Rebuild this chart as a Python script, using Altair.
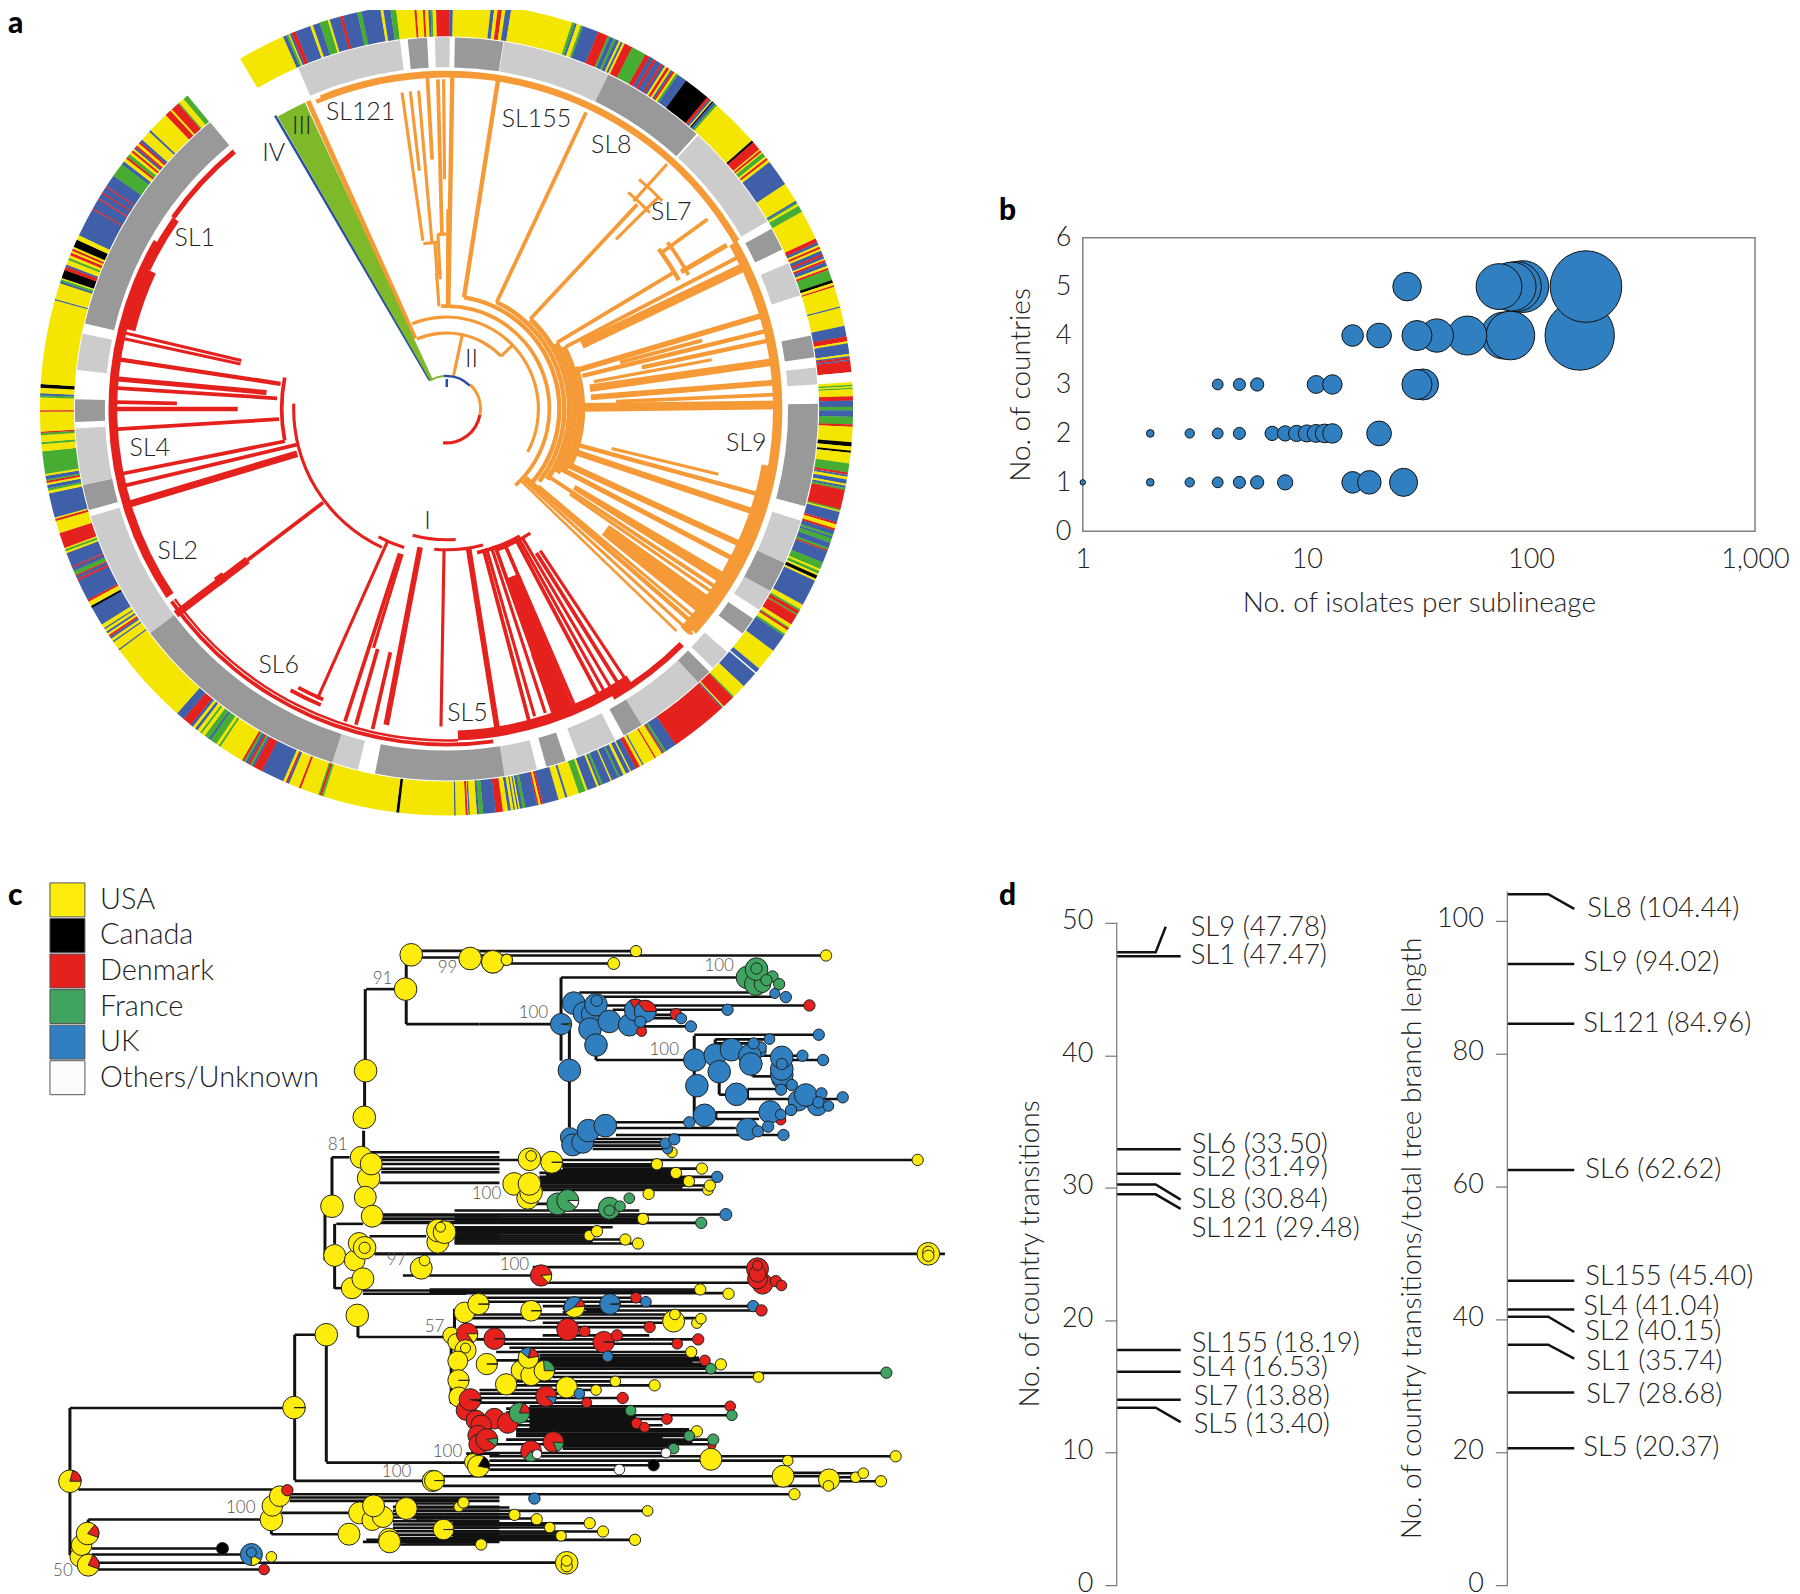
import math
import altair as alt
import pandas as pd

FONT = "Lato"
TXT = "#222222"
RED, ORG = "#e5211d", "#f59a36"
CX, CY = 447.0, 407.5
TREE_W = 1.25

# ---------- panel a: sublineage ring ----------
SEG = [(-23.5,-7.2,"L"),(-6,-3,"D"),(-1.8,0.5,"L"),(1.3,8.8,"D"),(8.9,25.8,"L"),(25.8,42.3,"D"),(42.6,59.7,"L"),
       (61,64.6,"D"),(66.9,72.2,"L"),(78.6,82,"D"),(83.6,86.2,"L"),(89.2,105.2,"D"),(107.5,114.5,"L"),(114.5,119.4,"D"),
       (119.4,122.7,"L"),(124.4,127.2,"D"),(130.9,134.2,"L"),(135,137.4,"D"),(137.4,148.3,"L"),(148.3,151.5,"D"),
       (153,159.3,"L"),(161.3,164.4,"D"),(165.9,171,"L"),(171,191.1,"D"),(193.8,197.9,"L"),(197.9,232.9,"D"),
       (232.9,253.2,"L"),(254.2,258.2,"D"),(258.2,267,"L"),(268,271.5,"D"),(276,281.7,"L"),(283.3,320.5,"D")]
# ---------- panel a: country ring (start angle, country) ----------
RING = [(-30.5,"Y"),(-23.7,"B"),(-23.2,"G"),(-22.9,"Y"),(-22.7,"B"),(-22.4,"R"),(-21.8,"B"),(-19.6,"Y"),(-19.2,"B"),(-18.2,"G"),
(-17.0,"Y"),(-16.7,"B"),(-15.2,"R"),(-14.8,"B"),(-12.7,"G"),(-12.1,"B"),(-9.4,"Y"),(-9.0,"B"),(-8.0,"G"),(-7.2,"Y"),(-4.6,"R"),
(-4.3,"Y"),(-3.4,"R"),(-3.1,"Y"),(-2.6,"B"),(-2.3,"G"),(-2.0,"Y"),(-1.5,"R"),(0.4,"B"),(0.9,"Y"),(6.3,"B"),(6.8,"Y"),(7.3,"R"),
(7.9,"Y"),(8.4,"B"),(9.2,"Y"),(18,"G"),(18.4,"B"),(18.7,"Y"),(19.3,"G"),(19.6,"B"),(21.9,"R"),(23.4,"G"),(23.7,"B"),(24.3,"G"),
(24.6,"B"),(25.1,"Y"),(25.4,"B"),(25.7,"Y"),(26.0,"R"),(27.2,"G"),(29.3,"R"),(30,"B"),(30.6,"R"),(31,"B"),(31.8,"R"),(32.1,"B"),
(32.5,"Y"),(32.8,"R"),(33.2,"Y"),(33.5,"B"),(33.8,"R"),(34.1,"Y"),(34.4,"G"),(34.7,"B"),(36.1,"K"),(39.9,"R"),(40.3,"B"),(40.6,"Y"),
(40.8,"K"),(41,"B"),(41.4,"G"),(41.7,"Y"),(48.7,"K"),(49,"R"),(50.3,"Y"),(50.5,"R"),(50.8,"Y"),(51,"G"),(51.6,"Y"),(51.9,"R"),
(52.2,"Y"),(52.6,"B"),(56.4,"Y"),(59.2,"B"),(59.5,"G"),(59.7,"Y"),(60,"G"),(61,"Y"),(65.2,"R"),(65.8,"B"),(66.2,"Y"),(66.5,"R"),
(66.8,"Y"),(67.1,"B"),(67.6,"R"),(67.9,"B"),(68.3,"Y"),(68.5,"R"),(68.8,"B"),(69.4,"Y"),(69.7,"R"),(70,"G"),(71.5,"K"),(71.9,"Y"),
(72.3,"R"),(72.5,"Y"),(75.4,"B"),(75.6,"Y"),(78.2,"B"),(79.7,"R"),(80.4,"Y"),(80.7,"B"),(82.2,"Y"),(82.5,"B"),(82.7,"R"),(83,"B"),
(83.2,"R"),(84.8,"W"),(86.2,"Y"),(86.6,"G"),(86.8,"Y"),(87,"G"),(87.2,"Y"),(88.2,"R"),(88.8,"B"),(89.7,"G"),(90.2,"B"),(91.1,"G"),
(92.2,"R"),(92.5,"Y"),(94.7,"K"),(95.3,"Y"),(95.9,"K"),(96.2,"Y"),(97.7,"G"),(99,"R"),(99.3,"B"),(99.6,"Y"),(100,"B"),(100.6,"Y"),
(100.9,"B"),(101.2,"G"),(101.5,"R"),(104.3,"G"),(104.5,"Y"),(104.7,"B"),(106.2,"R"),(106.5,"Y"),(107.1,"R"),(107.4,"B"),(108,"G"),
(108.3,"B"),(108.6,"G"),(109.2,"B"),(110,"G"),(110.3,"R"),(110.5,"B"),(112.2,"G"),(113.2,"Y"),(113.5,"G"),(113.9,"Y"),(114.2,"K"),
(114.7,"Y"),(115,"B"),(118.8,"Y"),(119.5,"G"),(119.8,"R"),(120.3,"G"),(120.5,"R"),(122,"Y"),(122.5,"G"),(122.7,"R"),(123,"Y"),
(123.6,"G"),(123.9,"B"),(126.5,"Y"),(129.7,"B"),(130.4,"W"),(130.6,"B"),(133,"Y"),(135,"G"),(135.2,"R"),(137,"Y"),(137.2,"B"),
(137.4,"R"),(145.7,"B"),(147.3,"G"),(147.6,"B"),(147.8,"R"),(148,"Y"),(149,"R"),(149.2,"Y"),(151,"B"),(151.2,"Y"),(151.6,"R"),
(152.2,"B"),(153,"Y"),(153.2,"B"),(153.8,"Y"),(154.2,"B"),(154.8,"G"),(155,"B"),(156,"Y"),(156.2,"B"),(157.4,"G"),(157.7,"B"),
(158,"Y"),(158.3,"B"),(159.7,"Y"),(160,"G"),(161,"Y"),(162.7,"B"),(163,"Y"),(164,"B"),(166.3,"R"),(166.6,"Y"),(166.9,"R"),(167.1,"B"),
(168.8,"G"),(169.2,"B"),(169.6,"Y"),(169.8,"B"),(170,"Y"),(170.3,"B"),(170.5,"Y"),(170.9,"B"),(171.3,"Y"),(172,"R"),(173,"B"),
(174.8,"G"),(175.4,"B"),(175.7,"Y"),(176.7,"B"),(176.9,"Y"),(177,"R"),(177.3,"Y"),(178.7,"B"),(178.9,"Y"),(186.7,"K"),(187.1,"Y"),
(197.6,"G"),(197.9,"R"),(198.2,"G"),(198.4,"Y"),(201,"R"),(201.3,"Y"),(202.8,"B"),(203.1,"R"),(203.3,"Y"),(203.7,"B"),(207,"R"),
(208.3,"B"),(208.6,"G"),(208.9,"R"),(209.2,"B"),(209.6,"G"),(209.9,"R"),(210.2,"Y"),(213.8,"G"),(214.1,"Y"),(214.5,"G"),(215.5,"B"),
(215.8,"G"),(216.5,"Y"),(217,"G"),(217.3,"Y"),(217.8,"B"),(218.2,"Y"),(218.6,"B"),(219,"R"),(220.3,"B"),(221.5,"Y"),(233.6,"B"),
(233.8,"Y"),(235,"B"),(235.2,"Y"),(235.6,"B"),(235.9,"R"),(236.2,"Y"),(236.5,"B"),(236.8,"Y"),(237.2,"B"),(237.4,"Y"),(238,"B"),
(240.7,"K"),(241,"Y"),(241.7,"R"),(242,"B"),(245,"R"),(245.3,"B"),(245.7,"R"),(245.9,"G"),(246.5,"B"),(247,"R"),(247.2,"B"),(249.2,"Y"),
(249.5,"G"),(249.8,"Y"),(250,"R"),(252.2,"Y"),(254,"R"),(254.3,"Y"),(254.5,"B"),(258,"Y"),(258.4,"G"),(258.7,"B"),(259.2,"Y"),(259.5,"R"),
(259.8,"G"),(260,"B"),(260.5,"Y"),(260.8,"G"),(264,"Y"),(265,"G"),(265.3,"Y"),(266.3,"G"),(266.6,"R"),(266.8,"Y"),(269.6,"R"),(269.8,"Y"),
(271.6,"G"),(271.9,"B"),(272.2,"Y"),(273,"K"),(273.5,"Y"),(285.5,"B"),(285.7,"Y"),(288,"B"),(288.3,"G"),(288.6,"Y"),(288.8,"K"),(290,"R"),
(290.5,"B"),(290.8,"Y"),(291.5,"G"),(291.8,"Y"),(292.2,"R"),(292.6,"Y"),(292.9,"R"),(293.2,"Y"),(293.5,"K"),(294.6,"Y"),(295.3,"B"),
(299.4,"R"),(299.6,"B"),(301,"R"),(301.2,"B"),(302,"R"),(302.2,"B"),(303,"R"),(303.2,"B"),(305,"G"),(307,"B"),(307.5,"Y"),(308,"R"),
(308.3,"G"),(308.8,"Y"),(309.2,"R"),(309.5,"Y"),(309.8,"B"),(310.1,"R"),(310.4,"Y"),(310.8,"R"),(311.1,"B"),(311.5,"Y"),(313,"B"),
(313.3,"Y"),(316.3,"R"),(317.2,"Y"),(317.5,"R"),(318.7,"G"),(318.9,"Y"),(319.7,"G")]
RING_END = 320.4

# ---------- panel a: tree (angle, r start, r end, width) ----------
RED_SPOKES = [(232.8,155,250,3),(232.8,250,340,6),
 (283.3,211,336,2.5),(282.3,211,336,2.5),(278.6,168,330,3.5),(275.2,181,330,4),(273.6,170,330,3),(271.2,270,330,3),(270,209,330,3.5),
 (266.5,168,330,3),(258.7,165,330,3),(256.6,154,330,3),(253.3,156,335,5.5),
 (204,146,318,2.5),(198,152,329,3),(197,152,250,2.5),(196,250,329,3),(193,250,329,3),(190.8,141,322,4.5),(181,141,318,2.5),
 (171,141,328,4.5),(165.2,145,324,3),(164,145,320,2.5),(162,145,320,2.5),(160.5,145,325,3),(156.7,148,322,3),(152,150,328,3),
 (150.8,150,328,2.5),(149.5,150,328,2.5),(148,170,328,3),(146.5,170,328,2.5)]
RED_ARCS = [(34,100,186,2.5),(131,176,195,2.5),(153,205,272,2.5),(165,259,281,3),(145,197,208,2.5),(141,165,185,2.5),(147,150,168,3),
 (150,146,160,2.5),(322,203,209,3),(316,203,208,3),(336,172,235,3),(332,178,235,2),(327,146,178,8),(333,135,150,5),(334,236,300,7),(328,284,295,11),
 (331,295,305,6),(334,305,320.5,4),(283,232,234,8)]
ORG_SPOKES = [(-24.2,77,338,4),(12,34,76,2.5),(46,76,92,2.5),(1,103,335,3.5),(0.3,103,200,2),(8.9,113,333,3.5),(25.2,118,328,3),(43,123,280,3),
 (42,280,330,2.5),(45,240,300,2.5),(59,129,266,3),(54,266,323,3),(59.7,272,325,4),(62.5,135,330,3),(64.5,150,334,7),(73.5,135,335,4.5),
 (75,180,265,3),(76.3,140,335,3.5),(78,200,335,3.5),(79.5,150,270,2.5),(81.8,145,335,6),(85.4,145,335,4.5),(87.5,170,335,3),(89.3,137,335,7),
 (105.3,135,335,3.5),(103.5,170,280,2.5),(108.5,135,335,5),(114.7,127,335,5),(117.6,125,335,4),(123.5,125,330,3),(124.6,150,330,2.5),(130,120,332,2.5),
 (131,105,334,3.5),(132.5,105,334,2.5),(134,103,320,2),
 (-8,170,320,2.5),(-5,167,320,2.5),(-4,137,167,2.5),(-6.5,240,320,2.5),(-3.3,250,335,3),(-1.5,175,330,3),(-2.8,130,175,2.5),(-0.5,230,330,2.5),(-4.2,103,137,2.5)]
ORG_ARCS = [(34,45,100,2.5),(76,-23,46,2.5),(92,-22,118,2.5),(103,-3,138,3),(113,9,132,3.5),(118,25,128,3.5),(123,43,125,4),(128,59,120,4.5),(133,62,118,4),
 (137,72,115,3),(334,-23,132,3.5),(330,60,132,5),(326,100,133,9),(337,-22,60,2.5),(167,-8,-3,2.5),(137,-4,-2,2.5),(175,-3,0,2.5),(266,53,61,3.5),(277,53,61,3),
 (283,40,46,2.5),(300,40,46,2.5)]
WEDGES = [(-30,-24.8,32,338,"#7db928"),(157,160.2,180,325,RED),(159.5,161,260,325,RED),(120.5,122.5,150,330,ORG),(125.5,129,200,332,ORG)]
THIN = [(-30.3,33,340,2.5,"#2a4f9e"),(0.6,22,30,2.5,"#2a4f9e")]
THIN_ARCS = [(33,-30,-5,2,"#7db928"),(33,-5,45,2.5,"#2a4f9e")]

TREE_LABELS = ["SL1","SL121","III","IV","SL155","SL8","SL7","II","SL9","SL4","SL2","SL6","I","SL5"]
TREE_LX = [195,361,302,274,537,612,672,472,747,150,178,279,428,468]
TREE_LY = [236,110,124,151,117,143,210,358,442,447,550,664,520,712]

# ---------- panel c: nodes per crop (u, v, diameter, country, [pie wedges]) ----------
Z6 = (0,870,[(1235,252,68,"Y"),(1218,355,68,"Y"),(1098,600,68,"Y"),(1094,740,68,"Y"),(1412,263,68,"Y"),(1480,273,68,"Y"),(1522,267,34,"Y")])
Z11 = (300,1130,[(185,80,66,"Y"),(207,143,68,"Y"),(215,100,66,"Y"),(197,200,66,"Y"),(218,257,66,"Y"),(97,227,68,"Y"),(415,335,66,"Y"),(415,300,68,"Y"),
      (435,305,68,"Y"),(423,290,30,"Y"),(178,338,64,"Y"),(195,352,68,"Y"),(195,352,34,"Y")])
Z7 = (480,920,[(470,91,34,"Y"),(1041,104,34,"Y"),(40,123,68,"Y"),(82,117,34,"Y"),(403,128,36,"Y"),
 (805,170,68,"G"),(830,190,68,"G"),(850,190,50,"G"),(832,145,68,"G"),(832,143,34,"G"),(880,167,34,"G"),(862,178,34,"G"),(900,190,34,"G"),
 (887,218,30,"B"),(920,229,34,"B"),(991,254,34,"R"),(745,267,34,"B"),
 (283,247,68,"B"),(315,277,68,"B"),(340,280,68,"B"),(350,252,68,"B"),(352,240,34,"B"),(332,325,68,"B"),(390,302,68,"B"),(350,373,68,"B"),
 (245,310,64,"B",[(85,95,"Y")]),(270,449,68,"B"),(450,313,66,"B"),(487,332,30,"R"),(468,268,66,"B",[(-30,50,"R")]),(498,272,66,"B",[(-40,90,"R")]),(483,303,34,"B"),
 (590,280,34,"R"),(606,293,32,"B"),(635,317,34,"B"),(1019,342,34,"B"),(871,355,32,"B"),(647,418,68,"B"),(708,403,68,"B"),(757,387,68,"B"),
 (845,392,32,"B"),(845,380,34,"B"),(812,405,68,"B"),(823,368,34,"B"),(815,430,68,"B"),(720,453,68,"B"),(908,475,60,"B"),(908,462,68,"B"),(908,445,68,"B"),(908,410,68,"B"),
 (908,430,34,"B"),(970,405,34,"B"),(1032,418,34,"B"),(938,493,34,"B"),(906,507,34,"B"),(653,495,68,"B"),(772,521,68,"B"),(958,540,62,"B"),(1015,555,60,"B"),(980,523,68,"B"),
 (1027,518,34,"B"),(1018,545,34,"B"),(1048,556,32,"B"),(1091,530,34,"B"),(676,584,68,"B"),(905,598,30,"R"),(873,574,68,"B"),(905,582,32,"B"),(936,568,34,"B"),
 (805,626,66,"B"),(836,632,34,"B"),(867,618,34,"B"),(913,643,34,"B"),(630,605,34,"B"),(272,650,58,"B"),(280,673,66,"B"),(310,665,66,"B"),(327,630,68,"B"),(378,615,68,"B"),
 (578,695,32,"Y"),(565,685,30,"B"),(558,668,32,"B"),(585,656,34,"B"),
 (150,716,68,"Y"),(155,706,32,"Y"),(217,725,66,"Y",[(89,91,"K")]),(533,731,34,"Y"),(1316,718,34,"Y"),(668,744,34,"Y"),(590,757,34,"Y"),(714,769,34,"B"),(629,782,34,"Y"),
 (686,808,32,"Y"),(692,795,34,"Y"),(508,820,34,"Y"),(104,790,68,"Y"),(145,833,66,"Y"),(155,815,68,"Y"),(150,790,68,"Y"),(235,850,66,"G"),(265,840,66,"G",[(90,130,"W")]),
 (390,863,66,"G"),(390,870,32,"G"),(450,833,32,"G"),(422,857,32,"G"),(740,882,36,"B"),(491,895,34,"Y"),(666,907,34,"G"),(330,945,32,"Y"),(353,932,34,"Y"),(438,957,34,"Y"),(476,969,34,"Y")])
Z8 = (0,1240,[(240,950,60,"Y"),(245,915,62,"Y"),(263,880,68,"Y",[(40,110,"R")]),(265,975,66,"Y",[(25,110,"R")]),(210,723,68,"Y",[(15,90,"R")]),(883,502,68,"Y",[(89,91,"K")]),(980,283,68,"Y"),
 (1005,45,66,"Y"),(1065,60,62,"Y"),(1265,83,66,"Y"),(1275,60,32,"Y"),(1057,143,64,"Y"),(1090,115,66,"Y"),(1073,225,68,"Y"),(1300,722,64,"Y",[(89,91,"K")]),
 (815,838,68,"Y"),(818,797,62,"Y"),(840,768,62,"Y"),(863,750,34,"R"),(1080,818,66,"Y"),(1118,840,62,"Y"),(1150,830,64,"Y"),(1122,797,66,"Y"),(1220,805,64,"Y"),(1048,882,66,"Y"),
 (1168,895,62,"Y"),(1170,905,66,"Y"),(668,925,36,"K"),(755,943,66,"B",[(120,180,"Y")]),(755,937,30,"B"),(815,950,32,"Y"),(793,988,32,"R")])
Z9 = (430,1240,[(1498,40,68,"Y"),(1498,34,34,"Y"),(1498,46,34,"Y"),(335,105,64,"R",[(85,135,"Y")]),(1000,130,62,"R"),(985,85,66,"R"),(985,115,60,"R"),(985,100,50,"R"),(985,75,30,"R"),
 (1040,122,34,"R"),(1057,135,32,"R"),(813,147,34,"Y"),(898,160,34,"Y"),(620,172,32,"R"),(650,184,32,"B"),(972,197,34,"B"),(997,210,34,"R"),(105,216,62,"Y"),(147,191,64,"Y",[(89,91,"K")]),
 (305,211,62,"Y",[(89,91,"K")]),(435,200,62,"Y",[(-120,40,"B"),(40,85,"R")]),(542,191,62,"B",[(86,94,"Y")]),(733,242,66,"Y"),(737,222,32,"Y"),(803,248,32,"Y"),(815,235,32,"Y"),
 (415,267,66,"R"),(466,273,32,"R"),(661,260,34,"R"),(65,285,50,"Y"),(80,305,50,"Y"),(113,280,64,"R",[(90,145,"Y")]),(195,295,64,"R",[(89,91,"K")]),(108,330,64,"Y"),(108,323,30,"Y"),
 (523,305,64,"R",[(89,91,"K")]),(563,285,34,"R"),(744,310,32,"R"),(807,297,34,"R"),(786,335,34,"Y"),(535,348,32,"B"),(85,362,60,"Y"),(172,371,64,"Y",[(89,91,"K")]),
 (275,390,60,"Y"),(305,405,62,"Y"),(297,353,62,"Y",[(-50,15,"B"),(15,80,"R")]),(345,391,62,"Y",[(-5,90,"G")]),(827,360,32,"R"),(875,372,34,"Y"),(845,385,32,"G"),(230,432,64,"Y"),
 (87,420,64,"Y",[(89,91,"K")]),(412,441,64,"Y"),(988,410,32,"Y"),(1372,397,34,"G"),(558,423,32,"Y"),(676,435,34,"Y"),(450,460,32,"B"),(500,449,32,"Y"),(88,470,60,"Y"),
 (110,510,60,"R"),(122,478,66,"R",[(88,100,"K")]),(350,468,62,"R",[(95,135,"B")]),(580,473,34,"R"),(472,487,30,"R"),(140,540,60,"R"),(195,535,62,"R"),(235,548,62,"R"),(155,555,62,"R"),(270,518,62,"G",[(20,90,"R")]),
 (903,498,32,"R"),(908,525,32,"G"),(604,511,32,"G"),(713,536,32,"R"),(622,549,32,"R"),(646,561,30,"R"),(145,585,60,"R"),(148,612,60,"R"),(172,598,66,"R",[(80,125,"G")]),(372,605,62,"R",[(95,160,"G")]),
 (305,632,62,"R",[(100,150,"W"),(150,220,"G")]),(803,573,34,"Y"),(780,587,32,"G"),(848,615,24,"R"),(852,598,34,"G"),(733,625,32,"G"),(710,638,30,"W"),(323,642,28,"W"),(845,657,66,"Y"),
 (1076,661,32,"Y"),(1400,648,34,"Y"),(130,665,50,"Y"),(147,678,66,"Y",[(30,100,"K")]),(673,675,34,"K"),(570,688,32,"W"),(15,721,60,"Y",[(89,91,"K")]),(1062,708,66,"Y"),(1200,718,64,"Y"),
 (1198,737,32,"Y"),(1280,711,32,"Y"),(1303,699,32,"Y"),(1356,723,34,"Y"),(1096,762,34,"Y")])
Z12 = (400,1490,[(20,55,66,"Y"),(178,50,30,"Y"),(192,37,34,"Y"),(405,25,34,"B"),(345,74,34,"Y"),(412,87,34,"Y"),(451,112,32,"Y"),(571,99,34,"Y"),(611,124,34,"Y"),(485,137,32,"Y"),
 (707,149,34,"Y"),(132,118,62,"Y",[(89,91,"K")]),(245,163,34,"Y"),(502,218,68,"Y"),(502,228,34,"Y"),(502,212,32,"Y"),(745,62,32,"Y")])

# ---------- panel c: branches per crop, horizontal (u1,u2,v) and vertical (u,v1,v2) ----------
H6 = (0,870,[(1235,1440,240),(1235,1440,260),(1220,1440,460),(1100,1185,355)])
V6 = (0,870,[(1220,250,460),(1097,355,600),(1095,600,740)])
H7 = (480,920,[(0,470,91),(0,1041,104),(40,403,128),(245,800,170),(0,245,310),(300,830,215),(330,890,228),(380,990,254),(400,745,267),(500,590,282),(500,605,292),(450,635,317),
 (350,640,418),(645,1019,342),(708,870,356),(708,830,368),(845,970,405),(900,1032,418),(820,880,467),(720,772,522),(805,905,505),(805,1091,535),(710,870,575),(710,840,595),(410,630,605),
 (410,770,622),(410,910,643),(340,550,655),(340,570,665),(340,560,675),(340,565,685),(-300,1316,718),(250,530,731),(250,668,744),(180,590,757),(180,714,769),
 (180,629,782),(180,692,795),(180,686,808),(150,250,850),(-300,740,882),(-300,666,907),(-300,491,895),(-75,353,932),(-75,330,945),(-75,438,957),(-75,476,969),(-315,1398,1000),
 (240,530,737),(200,600,750),(200,600,763),(180,620,775),(180,620,788),(180,610,801),(-75,480,870),(-75,480,888),(-75,480,901),(-75,400,920),(-75,340,926),(-75,340,938),(-75,330,951),(-75,340,963)])
V7 = (480,920,[(245,170,420),(270,310,620),(350,373,418),(645,345,590),(708,356,400),(720,453,522),(805,505,535),(710,575,595),(820,430,467)])
H9 = (430,1240,[(310,985,80),(-80,310,105),(340,985,127),(0,815,147),(0,898,158),(0,800,153),(130,620,172),(130,650,184),(340,972,197),(470,997,210),(120,720,222),(110,815,233),(110,660,260),
 (140,807,297),(200,744,310),(200,540,335),(330,786,335),(180,827,360),(330,845,370),(330,875,378),(370,1372,398),(370,988,410),(370,845,385),(330,800,345),(330,810,352),(230,558,423),(230,676,435),
 (150,500,449),(150,450,460),(150,580,473),(150,472,487),(300,903,498),(300,604,511),(300,908,525),(300,713,536),(300,622,549),(300,646,561),(260,803,573),(260,780,587),(230,852,598),(170,848,612),
 (400,733,625),(170,710,638),(180,1400,648),(180,1076,661),(180,673,675),(180,570,688),(-20,1062,708),(1062,1200,698),(1062,1200,708),(1200,1303,699),(1200,1280,711),(40,1198,737),(1198,1356,723),
 (230,600,505),(230,600,517),(230,620,530),(230,620,543),(260,700,555),(260,780,567),(260,780,580),(400,700,592),(400,790,604),(400,720,618),(400,560,205),(400,560,215),(340,700,247),(340,660,285),
 (240,540,322),(330,790,365)])
V9 = (430,1240,[(75,205,290),(65,290,490),(130,520,650)])
H8 = (0,1240,[(210,885,503),(885,980,283),(235,840,748),(885,1300,722),(980,1410,667),(1075,1400,290),(1005,1090,143),(1090,1400,150),(1090,1400,160),(265,815,838),(845,1080,818),(815,1050,882),(275,668,925),
 (275,755,943),(290,1698,968),(290,793,988),(860,2385,762),(870,1500,772),(870,1500,782),(1180,1500,800),(1180,1500,812),(1180,1500,822),(1180,1500,832),(1180,1500,843),(1180,1500,853),(1180,1500,863),
 (1180,1500,873),(1180,1500,884),(1180,1500,894),(1090,1500,905),(1400,1500,640)])
V8 = (0,1240,[(210,503,945),(885,283,720),(980,283,665),(1075,225,290),(1005,45,145),(265,838,880),(815,838,882)])
H12 = (400,1490,[(0,180,28),(0,180,40),(0,745,62),(50,345,72),(50,412,85),(160,571,99),(160,451,112),(160,611,124),(160,485,137),(-100,707,149),(0,245,163),(160,440,104),(160,470,130),(160,480,143),
 (40,330,52),(40,330,80),(30,100,92),(20,245,157),(0,502,218)])
H11 = (300,1130,[(210,600,65),(240,600,100),(245,600,115),(245,600,125),(240,600,157),(215,600,80),(250,600,255),(250,600,265),(250,600,275),(470,600,305),(470,600,315),(470,600,325),(110,190,280),(210,380,317),(225,600,370),(97,150,80)])
V11 = (300,1130,[(97,80,200),(76,250,390),(105,280,340),(192,0,60)])

LEG_NAMES = ["USA","Canada","Denmark","France","UK","Others/Unknown"]
LEG_CODES = ["Y","K","R","G","B","W"]
SUP_TXT = ["91","99","81","100","100","100","100","97","57","100","100","100","50","100"]
SUP_X = [383,448,338,487,720,534,665,397,435,448,397,241,63,515]
SUP_Y = [978,967,1144,1193,965,1012,1049,1260,1327,1452,1472,1508,1571,1265]
LETTERS = ["a","c"]; LET_X=[8,8]; LET_Y=[22,895]

RING_C = {"Y":"#f4e600","B":"#3f60a9","G":"#47ad32","R":"#e5211d","K":"#000000","W":"#ffffff"}
SEG_C = {"L":"#cccccc","D":"#999999"}
NODE_C = {"Y":"#fdec0c","B":"#2f7fc1","G":"#3fa45f","R":"#e5211d","K":"#000000","W":"#fbfbfb"}

# ---------- panel b ----------
B_N = [1,2,3,4,5,6,8,16,19,27, 2,3,4,5,7,8,9,10,11,12,13,21, 33,31,4,5,6,11,13, 16,21,76,81,165,52,38,31, 176,92,86,82,72,28]
B_C = [1]*10 + [2]*12 + [3]*7 + [4]*8 + [5]*6

# ---------- panel d ----------
D1_NAMES = ["SL9 (47.78)","SL1 (47.47)","SL6 (33.50)","SL2 (31.49)","SL8 (30.84)","SL121 (29.48)","SL155 (18.19)","SL4 (16.53)","SL7 (13.88)","SL5 (13.40)"]
D1_LINE = [47.78,47.47,32.9,31.05,30.25,29.5,17.75,16.1,14.0,13.4]
D1_END = [49.7,47.47,32.9,31.05,29.1,28.4,17.75,16.1,14.0,12.3]
D1_TIP = [49,64,64,64,64,64,64,64,64,64]
D1_LAB = [49.6,47.5,33.2,31.5,29.1,26.9,18.2,16.4,14.2,12.1]
D1_LX = [74,74,75,75,75,75,75,75,77,77]
D2_NAMES = ["SL8 (104.44)","SL9 (94.02)","SL121 (84.96)","SL6 (62.62)","SL155 (45.40)","SL4 (41.04)","SL2 (40.15)","SL1 (35.74)","SL7 (28.68)","SL5 (20.37)"]
D2_LINE = [104.0,93.5,84.5,62.5,45.8,41.5,40.4,36.2,29.0,20.6]
D2_END = [101.8,93.5,84.5,62.5,45.8,41.5,38.1,34.1,29.0,20.6]
D2_TIP = [67]*10
D2_LAB = [101.7,93.6,84.5,62.5,46.4,41.9,38.1,33.6,28.6,20.7]
D2_LX = [80,76,76,78,78,76,78,79,79,76]

# ================= build panel a + c =================
XS = alt.Scale(domain=[8,999], nice=False, zero=False)
YS = alt.Scale(domain=[1588,8], nice=False, zero=False)
X = lambda f: alt.X(f, type="quantitative", scale=XS, axis=None)
Y = lambda f: alt.Y(f, type="quantitative", scale=YS, axis=None)

def pol(t, r):
    a = math.radians(t)
    return CX + r*math.sin(a), CY - r*math.cos(a)

def arc_layer(rows, clip=False, stroke=None, sw=0):
    kw = dict(clip=clip)
    if stroke: kw.update(stroke=stroke, strokeWidth=sw)
    return alt.Chart(pd.DataFrame(rows)).mark_arc(**kw).encode(
        x=X("cx"), y=Y("cy"),
        theta=alt.Theta("t1:Q", scale=None), theta2=alt.Theta2("t2:Q"),
        radius=alt.Radius("r2:Q", scale=None), radius2=alt.Radius2("r1:Q"),
        color=alt.Color("col:N", scale=None))

ring_rows = []
for i, (s, c) in enumerate(RING):
    e = RING[i+1][0] if i+1 < len(RING) else RING_END
    ring_rows.append(dict(cx=CX, cy=CY, t1=math.radians(s), t2=math.radians(e+0.03), r1=373, r2=407, col=RING_C[c]))
seg_rows = [dict(cx=CX, cy=CY, t1=math.radians(a), t2=math.radians(b), r1=342, r2=372, col=SEG_C[k]) for a,b,k in SEG]

tree_arc_rows = []
for rows, col in ((RED_ARCS, RED), (ORG_ARCS, ORG)):
    for r, a, b, w in rows:
        w *= TREE_W
        tree_arc_rows.append(dict(cx=CX, cy=CY, t1=math.radians(a), t2=math.radians(b), r1=r-w/2, r2=r+w/2, col=col))
for r, a, b, w, col in THIN_ARCS:
    tree_arc_rows.append(dict(cx=CX, cy=CY, t1=math.radians(a), t2=math.radians(b), r1=r-w/2, r2=r+w/2, col=col))
for a, b, r1, r2, col in WEDGES:
    tree_arc_rows.append(dict(cx=CX, cy=CY, t1=math.radians(a), t2=math.radians(b), r1=r1, r2=r2, col=col))

sp_rows = []
for rows, col in ((RED_SPOKES, RED), (ORG_SPOKES, ORG)):
    for t, r1, r2, w in rows:
        x1,y1 = pol(t,r1); x2,y2 = pol(t,r2)
        sp_rows.append(dict(x=x1,y=y1,x2=x2,y2=y2,w=w*TREE_W,col=col))
for t, r1, r2, w, col in THIN:
    x1,y1 = pol(t,r1); x2,y2 = pol(t,r2)
    sp_rows.append(dict(x=x1,y=y1,x2=x2,y2=y2,w=w,col=col))

def rule_layer(rows):
    return alt.Chart(pd.DataFrame(rows)).mark_rule().encode(
        x=X("x"), y=Y("y"), x2=alt.X2("x2"), y2=alt.Y2("y2"),
        strokeWidth=alt.StrokeWidth("w:Q", scale=None), color=alt.Color("col:N", scale=None))

def text_layer(xs, ys, ts, size, color=TXT, weight=300, align="center"):
    return alt.Chart(pd.DataFrame(dict(x=xs,y=ys,t=ts))).mark_text(
        font=FONT, fontSize=size, color=color, fontWeight=weight, align=align, baseline="middle").encode(
        x=X("x"), y=Y("y"), text="t:N")

a_layers = [arc_layer(ring_rows, clip=True), arc_layer(seg_rows, clip=True), rule_layer(sp_rows), arc_layer(tree_arc_rows),
            text_layer(TREE_LX, TREE_LY, TREE_LABELS, 25)]

lines = []
for ox, oy, rows in (H6,H7,H9,H8,H12,H11):
    for u1,u2,v in rows:
        lines.append(dict(x=ox+u1/3, x2=ox+u2/3, y=oy+v/3, y2=oy+v/3, w=2.6, col="#111111"))
for ox, oy, rows in (V6,V7,V9,V8,V11):
    for u,v1,v2 in rows:
        lines.append(dict(x=ox+u/3, x2=ox+u/3, y=oy+v1/3, y2=oy+v2/3, w=3, col="#111111"))
nodes = []
for ox, oy, rows in (Z8,Z11,Z6,Z9,Z12,Z7):
    for n in rows:
        u,v,d,c = n[:4]
        cx, cy, r = ox+u/3, oy+v/3, d/6
        nodes.append(dict(cx=cx,cy=cy,t1=0,t2=2*math.pi,r1=0,r2=r,col=NODE_C[c]))
        if len(n) > 4:
            for a,b,k in n[4]:
                nodes.append(dict(cx=cx,cy=cy,t1=math.radians(a),t2=math.radians(b),r1=0,r2=r,col=NODE_C[k]))

leg = pd.DataFrame(dict(x=[50]*6, x2=[85]*6, y=[882+35.6*i for i in range(6)], y2=[916+35.6*i for i in range(6)],
                        col=[NODE_C[c] for c in LEG_CODES]))
leg_l = alt.Chart(leg).mark_rect(stroke="#555555", strokeWidth=1).encode(
    x=X("x"), x2=alt.X2("x2"), y=Y("y"), y2=alt.Y2("y2"), color=alt.Color("col:N", scale=None))

left = alt.layer(*a_layers,
    rule_layer(lines),
    arc_layer(nodes, stroke="#222222", sw=1),
    text_layer(SUP_X, SUP_Y, SUP_TXT, 17, color="#555555"),
    leg_l,
    text_layer([100]*6, [899+35.6*i for i in range(6)], LEG_NAMES, 29, align="left"),
    text_layer(LET_X, LET_Y, LETTERS, 30, color="#000000", weight=900, align="left"),
).properties(width=991, height=1580)

# ================= panel b =================
bdf = pd.DataFrame(dict(n=B_N, c=B_C))
b_pts = alt.Chart(bdf).mark_circle(color="#2f7fc1", stroke="#111111", strokeWidth=1, opacity=1).encode(
    x=alt.X("n:Q", scale=alt.Scale(type="log", domain=[1,1000], nice=False),
            axis=alt.Axis(values=[1,10,100,1000], format=",", title="No. of isolates per sublineage", labelPadding=15, titlePadding=17, labelFlush=False)),
    y=alt.Y("c:Q", scale=alt.Scale(domain=[0,6], nice=False),
            axis=alt.Axis(values=[0,1,2,3,4,5,6], title="No. of countries", labelPadding=12, titlePadding=20)),
    size=alt.Size("n:Q", scale=alt.Scale(type="linear", domain=[0,1], range=[0,29.2], clamp=False), legend=None))
letter = lambda t, x, y: alt.Chart(pd.DataFrame(dict(t=[t]))).mark_text(font=FONT, fontSize=30, fontWeight=900, color="#000000", align="left", baseline="middle").encode(
    text="t:N", x=alt.value(x), y=alt.value(y))
b = alt.layer(b_pts, letter("b", -84, -27)).properties(width=673, height=294,
    view=alt.ViewConfig(stroke="#808080", strokeWidth=1.5))

# ================= panel d =================
def d_panel(names, line, end, tips, lab, lx, elbow, title, top, ticks, maxtick, xmin, xmax, tpad, **axkw):
    xs = alt.Scale(domain=[xmin,xmax], nice=False, zero=False)
    ys = alt.Scale(domain=[0,top], nice=False, zero=False)
    ya = alt.Axis(values=ticks, title=title, labelPadding=12, titlePadding=tpad, domain=False, labelOffset=-2,
                  ticks=True, tickSize=12, tickColor="#777777", tickWidth=1.2, **axkw)
    rows = []
    for n, l, e, t in zip(names, line, end, tips):
        rows += [dict(n=n,px=0,val=l), dict(n=n,px=elbow,val=l), dict(n=n,px=t,val=e)]
    ln = alt.Chart(pd.DataFrame(rows)).mark_line(color="#111111", strokeWidth=2.5).encode(
        x=alt.X("px:Q", scale=xs, axis=None), y=alt.Y("val:Q", scale=ys, axis=ya), detail="n:N")
    ax = alt.Chart(pd.DataFrame(dict(lo=[0], hi=[maxtick], px=[0]))).mark_rule(color="#777777", strokeWidth=1.2).encode(
        x=alt.X("px:Q", scale=xs, axis=None), y=alt.Y("lo:Q", scale=ys, axis=ya), y2=alt.Y2("hi"))
    tx = alt.Chart(pd.DataFrame(dict(t=names, px=lx, val=lab))).mark_text(font=FONT, fontSize=27.5, fontWeight=300, color=TXT, align="left", baseline="middle").encode(
        x=alt.X("px:Q", scale=xs, axis=None), y=alt.Y("val:Q", scale=ys, axis=ya), text="t:N")
    return ln, ax, tx

# panel d1's plot starts 34 px left of its axis so that it lines up with panel b in the same column
d1p = d_panel(D1_NAMES, D1_LINE, D1_END, D1_TIP, D1_LAB, D1_LX, 39, "No. of country transitions", 52.41, [0,10,20,30,40,50], 50, -34, 250, 17, offset=-34, titleY=363)
d2p = d_panel(D2_NAMES, D2_LINE, D2_END, D2_TIP, D2_LAB, D2_LX, 41, "No. of country transitions/total tree branch length", 104.5, [0,20,40,60,80,100], 104.4, 0, 285, 10)
d1 = alt.layer(*d1p, letter("d", -84, 5)).properties(width=284, height=695)
d2 = alt.layer(*d2p).properties(width=285, height=695)

def spacer(h):
    return alt.Chart(pd.DataFrame(dict(a=[0]))).mark_point(opacity=0).encode(x=alt.value(0), y=alt.value(0)).properties(width=10, height=h)

right = alt.vconcat(spacer(185), b, spacer(260), alt.hconcat(d1, d2, spacing=32), spacing=0)
chart = alt.hconcat(left, right, spacing=0).properties(padding={"top":-2,"left":0,"right":0,"bottom":0}).configure_view(stroke=None).configure_axis(
    grid=False, ticks=False, domain=False, labelFont=FONT, labelFontSize=27, labelColor=TXT, labelFontWeight=300,
    titleFont=FONT, titleFontSize=28, titleFontWeight=300, titleColor=TXT)
chart.save("out.html", embed_options={"renderer": "svg", "actions": False})
